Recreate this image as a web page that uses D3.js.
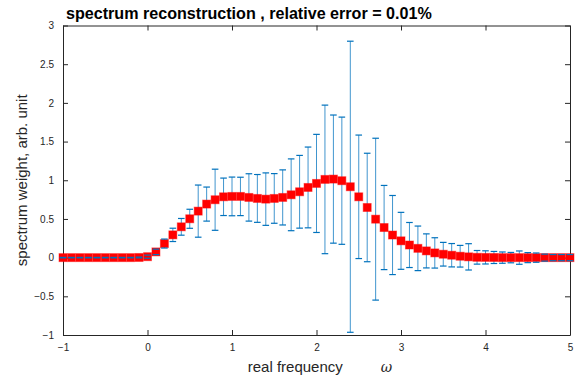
<!DOCTYPE html>
<html><head><meta charset="utf-8">
<script src="https://cdn.jsdelivr.net/npm/d3@7/dist/d3.min.js"></script>
<style>body{margin:0;background:#fff}svg{display:block}</style>
</head><body>
<svg id="c" width="584" height="381"></svg>
<script>
const xValues = [-1.0,-0.9,-0.8,-0.7,-0.6,-0.5,-0.4,-0.3,-0.2,-0.1,0.0,0.1,0.2,0.3,0.4,0.5,0.6,0.7,0.8,0.9,1.0,1.1,1.2,1.3,1.4,1.5,1.6,1.7,1.8,1.9,2.0,2.1,2.2,2.3,2.4,2.5,2.6,2.7,2.8,2.9,3.0,3.1,3.2,3.3,3.4,3.5,3.6,3.7,3.8,3.9,4.0,4.1,4.2,4.3,4.4,4.5,4.6,4.7,4.8,4.9,5.0];
const weights = [0,0,0,0,0,0,0,0,0,0.002,0.012,0.074,0.182,0.294,0.398,0.502,0.601,0.692,0.748,0.786,0.791,0.791,0.778,0.765,0.756,0.765,0.778,0.812,0.851,0.907,0.959,1.011,1.015,0.994,0.916,0.786,0.648,0.497,0.389,0.292,0.217,0.163,0.120,0.087,0.061,0.044,0.031,0.018,0.010,0.004,0.003,0.002,0,0,0,0,0,0,0,0,0];
const errors = [0.003,0.003,0.003,0.003,0.003,0.003,0.003,0.003,0.003,0.005,0.02,0.035,0.058,0.086,0.108,0.123,0.337,0.220,0.395,0.242,0.250,0.248,0.306,0.309,0.339,0.321,0.356,0.464,0.470,0.522,0.634,0.960,0.828,0.822,1.881,0.798,0.701,1.046,0.544,0.511,0.368,0.291,0.288,0.220,0.196,0.153,0.151,0.140,0.170,0.088,0.085,0.078,0.073,0.067,0.086,0.065,0.060,0.045,0.040,0.040,0.040];
const xTicks = [-1,0,1,2,3,4,5];
const yTicks = [-1,-0.5,0,0.5,1,1.5,2,2.5,3];
const titleText = "spectrum reconstruction , relative error = 0.01%";
const xLabel = "real frequency";
const xLabelSym = "ω";
const yLabel = "spectrum weight, arb. unit";

const svg = d3.select("#c");
const L = 63, R = 570, T = 25.5, B = 335;
const x = d3.scaleLinear().domain([-1,5]).range([L,R]);
const y = d3.scaleLinear().domain([-1,3]).range([B,T]);
const axisColor = "#262626";
const font = "'Liberation Sans', Arial, Helvetica, sans-serif";

// axes with inward ticks
const gx = svg.append("g").attr("transform",`translate(0,${B})`)
  .call(d3.axisBottom(x).tickValues(xTicks).tickSizeInner(-5).tickSizeOuter(0).tickPadding(9).tickFormat(d3.format("")));
const gxt = svg.append("g").attr("transform",`translate(0,${T})`)
  .call(d3.axisTop(x).tickValues(xTicks).tickSizeInner(-5).tickSizeOuter(0).tickFormat(""));
const gy = svg.append("g").attr("transform",`translate(${L},0)`)
  .call(d3.axisLeft(y).tickValues(yTicks).tickSizeInner(-5).tickSizeOuter(0).tickPadding(9).tickFormat(d3.format("")));
const gyr = svg.append("g").attr("transform",`translate(${R},0)`)
  .call(d3.axisRight(y).tickValues(yTicks).tickSizeInner(-5).tickSizeOuter(0).tickFormat(""));
[gx,gxt,gy,gyr].forEach(g=>{
  g.selectAll("path.domain").attr("stroke",axisColor).attr("stroke-width",1);
  g.selectAll(".tick line").attr("stroke",axisColor);
  g.selectAll("text").attr("fill",axisColor).style("font-family",font).style("font-size","10px");
});
gx.selectAll("text").attr("dy","0.71em");

// error bars (vertical)
const barColor = "#0072bd";
const data = xValues.map((v,i)=>({x:v,y:weights[i],e:errors[i]}));
svg.append("g").selectAll("line").data(data).join("line")
  .attr("x1",d=>x(d.x)).attr("x2",d=>x(d.x))
  .attr("y1",d=>y(d.y+d.e)).attr("y2",d=>y(d.y-d.e))
  .attr("stroke",barColor).attr("stroke-width",1).attr("stroke-opacity",0.75);

// markers
const ms = 8;
svg.append("g").selectAll("rect").data(data).join("rect")
  .attr("x",d=>x(d.x)-ms/2).attr("y",d=>y(d.y)-ms/2)
  .attr("width",ms).attr("height",ms)
  .attr("fill","#ff0000").attr("stroke","rgba(255,0,0,0.45)").attr("stroke-width",1);

// caps
const cw = 3.3;
const caps = svg.append("g");
data.forEach(d=>{
  [d.y+d.e, d.y-d.e].forEach(v=>{
    caps.append("line").attr("x1",x(d.x)-cw).attr("x2",x(d.x)+cw)
      .attr("y1",y(v)).attr("y2",y(v))
      .attr("stroke",barColor).attr("stroke-width",1.2);
  });
});

// title
const t = svg.append("text").attr("x",66).attr("y",18.5)
  .style("font-family",font).style("font-weight","bold").style("font-size","15px")
  .attr("fill","#000").text(titleText);
const tw = t.node().getComputedTextLength();
t.style("font-size",(15*366/tw)+"px");

// x label
const xl = svg.append("text").attr("x",320).attr("y",372).attr("text-anchor","middle")
  .style("font-family",font).style("font-size","15px").attr("fill",axisColor);
xl.append("tspan").text(xLabel);
xl.append("tspan").attr("dx",38).style("font-style","italic").style("font-family","'DejaVu Serif', serif").style("font-size","14px").text(xLabelSym);

// y label
svg.append("text").attr("transform",`translate(27,${(T+B)/2}) rotate(-90)`)
  .attr("text-anchor","middle")
  .style("font-family",font).style("font-size","15px").attr("fill",axisColor)
  .text(yLabel);
</script>
</body></html>
